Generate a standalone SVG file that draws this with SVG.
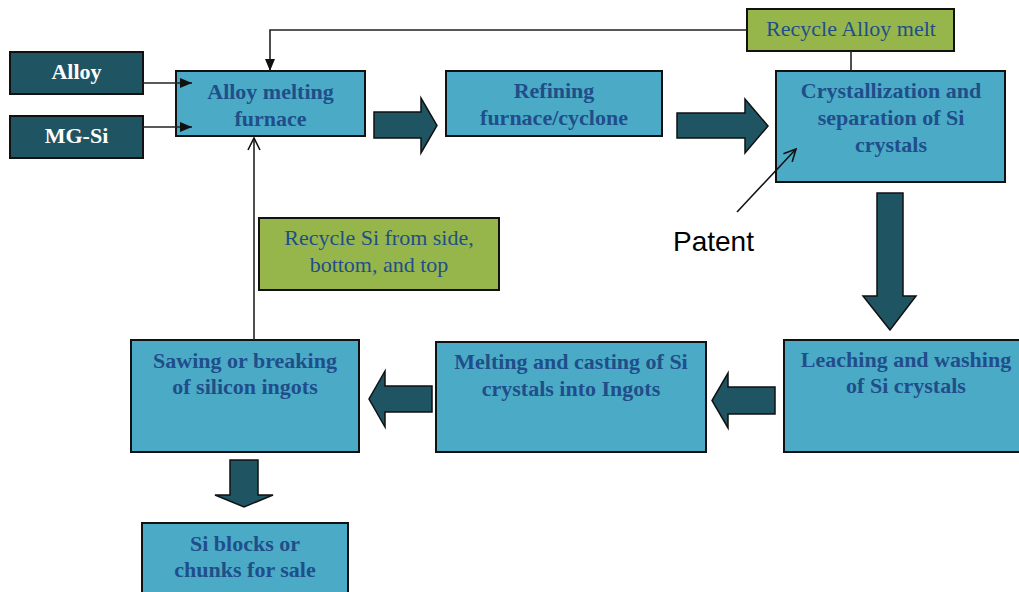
<svg xmlns="http://www.w3.org/2000/svg" width="1019" height="592" viewBox="0 0 1019 592">
<defs>
<style>
.box{fill:#4BAAC6;stroke:#111;stroke-width:2}
.dark{fill:#1F5563;stroke:#111;stroke-width:2}
.green{fill:#96B64B;stroke:#111;stroke-width:2}
.blk{fill:#1F5563;stroke:#111;stroke-width:1.5;stroke-linejoin:miter}
.t{font-family:"Liberation Serif","Times New Roman",serif;font-size:22px;font-weight:bold;fill:#1F4E8A;text-anchor:middle}
.tr{font-family:"Liberation Serif","Times New Roman",serif;font-size:22px;fill:#1F4E8A;text-anchor:middle}
.tw{font-family:"Liberation Serif","Times New Roman",serif;font-size:22px;font-weight:bold;fill:#fff;text-anchor:middle}
.ln{fill:none;stroke:#222;stroke-width:1.6}
</style>
<marker id="fa" viewBox="0 0 12 10" refX="12" refY="5" markerWidth="12" markerHeight="10" markerUnits="userSpaceOnUse" orient="auto">
<path d="M0,0 L12,5 L0,10 Z" fill="#111"/>
</marker>
<marker id="oa" viewBox="0 0 14 14" refX="13" refY="7" markerWidth="14" markerHeight="14" markerUnits="userSpaceOnUse" orient="auto">
<path d="M1,1 L13,7 L1,13" fill="none" stroke="#111" stroke-width="1.6"/>
</marker>
</defs>
<rect width="1019" height="592" fill="#fff"/>

<g id="alloy">
<rect class="dark" x="10" y="52" width="133" height="42"/>
<text class="tw" x="76.5" y="79">Alloy</text>
</g>
<g id="mgsi">
<rect class="dark" x="10" y="116" width="133" height="42"/>
<text class="tw" x="76.5" y="143">MG-Si</text>
</g>
<g id="furnace">
<rect class="box" x="176" y="71" width="189" height="65"/>
<text class="t" x="270.5" y="99">Alloy melting</text>
<text class="t" x="270.5" y="126">furnace</text>
</g>
<g id="refining">
<rect class="box" x="446" y="71" width="216" height="65"/>
<text class="t" x="554" y="98">Refining</text>
<text class="t" x="554" y="125">furnace/cyclone</text>
</g>
<g id="recycle-alloy">
<rect class="green" x="747" y="9" width="207" height="42"/>
<text class="tr" x="851" y="36">Recycle Alloy melt</text>
</g>
<g id="crystallization">
<rect class="box" x="776" y="71" width="229" height="111"/>
<text class="t" x="891" y="98">Crystallization and</text>
<text class="t" x="891" y="125">separation of Si</text>
<text class="t" x="891" y="152">crystals</text>
</g>
<g id="patent">
<text x="673" y="251" font-family="'Liberation Sans','Open Sans',sans-serif" font-size="28" fill="#000">Patent</text>
</g>
<g id="recycle-si">
<rect class="green" x="259" y="218" width="240" height="72"/>
<text class="tr" x="379" y="245">Recycle Si from side,</text>
<text class="tr" x="379" y="272">bottom, and top</text>
</g>
<g id="leaching">
<rect class="box" x="784" y="340" width="244" height="112"/>
<text class="t" x="906" y="367">Leaching and washing</text>
<text class="t" x="906" y="393">of Si crystals</text>
</g>
<g id="melting">
<rect class="box" x="436" y="342" width="270" height="110"/>
<text class="t" x="571" y="369">Melting and casting of Si</text>
<text class="t" x="571" y="396">crystals into Ingots</text>
</g>
<g id="sawing">
<rect class="box" x="131" y="340" width="228" height="112"/>
<text class="t" x="245" y="368">Sawing or breaking</text>
<text class="t" x="245" y="394">of silicon ingots</text>
</g>
<g id="blocks">
<rect class="box" x="142" y="523" width="206" height="80"/>
<text class="t" x="245" y="551">Si blocks or</text>
<text class="t" x="245" y="577">chunks for sale</text>
</g>

<g id="connectors">
<line class="ln" x1="143" y1="83" x2="192" y2="83" marker-end="url(#fa)"/>
<line class="ln" x1="143" y1="127" x2="192" y2="127" marker-end="url(#fa)"/>
<polyline class="ln" points="747,30 270,30 270,71" marker-end="url(#fa)"/>
<line class="ln" x1="851" y1="51" x2="851" y2="71"/>
<line class="ln" x1="254" y1="340" x2="254" y2="138" marker-end="url(#oa)"/>
<line x1="737" y1="212" x2="796" y2="149" stroke="#111" stroke-width="1.6" marker-end="url(#oa)"/>
<polygon class="blk" points="374,112 421,112 421,98 437,125.5 421,153 421,138 374,138"/>
<polygon class="blk" points="677,113 745,113 745,99 768,126 745,153 745,138 677,138"/>
<polygon class="blk" points="877,193 903,193 903,296 916,296 890,330 863,296 877,296"/>
<polygon class="blk" points="775,387 728,387 728,373 712,400.5 728,428 728,414 775,414"/>
<polygon class="blk" points="432,386 385,386 385,371 369,399 385,427 385,412 432,412"/>
<polygon class="blk" points="230,460 258,460 258,495 273,495 244,507 215,495 230,495"/>
</g>
</svg>
